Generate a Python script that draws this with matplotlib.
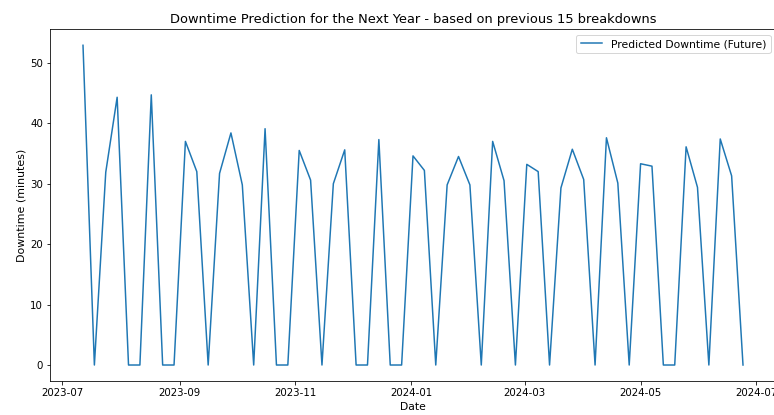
import numpy as np
import pandas as pd
import matplotlib
matplotlib.use("Agg")
import matplotlib.pyplot as plt

# Forecast horizon: one predicted breakdown every 6 days
start_date = "2023-07-12"
interval_days = 6

predicted_downtime = [
    52.9, 0, 31.9, 44.3, 0, 0, 44.7, 0, 0, 37.0,
    32.0, 0, 31.7, 38.4, 29.8, 0, 39.1, 0, 0, 35.5,
    30.6, 0, 30.0, 35.6, 0, 0, 37.3, 0, 0, 34.6,
    32.2, 0, 29.8, 34.5, 29.8, 0, 37.0, 30.5, 0, 33.2,
    32.0, 0, 29.3, 35.7, 30.7, 0, 37.6, 30.1, 0, 33.3,
    32.9, 0, 0, 36.1, 29.4, 0, 37.4, 31.3, 0,
]

dates = pd.date_range(start=start_date, periods=len(predicted_downtime),
                      freq=f"{interval_days}D")

fig = plt.figure(figsize=(774 / 72, 415 / 72), dpi=72)
ax = fig.add_axes([50 / 774, (415 - 381) / 415, 726 / 774, (381 - 29.3) / 415])

ax.plot(dates, predicted_downtime, label="Predicted Downtime (Future)",
        color="tab:blue", linewidth=1.5)

ax.set_title("Downtime Prediction for the Next Year - based on previous 15 breakdowns",
             fontsize=13)
ax.set_xlabel("Date", fontsize=10.8)
ax.set_ylabel("Downtime (minutes)", fontsize=11)
ax.tick_params(labelsize=10.2)
ax.legend(loc="upper right", fontsize=10.8)

fig.savefig("out.png", dpi=72)
